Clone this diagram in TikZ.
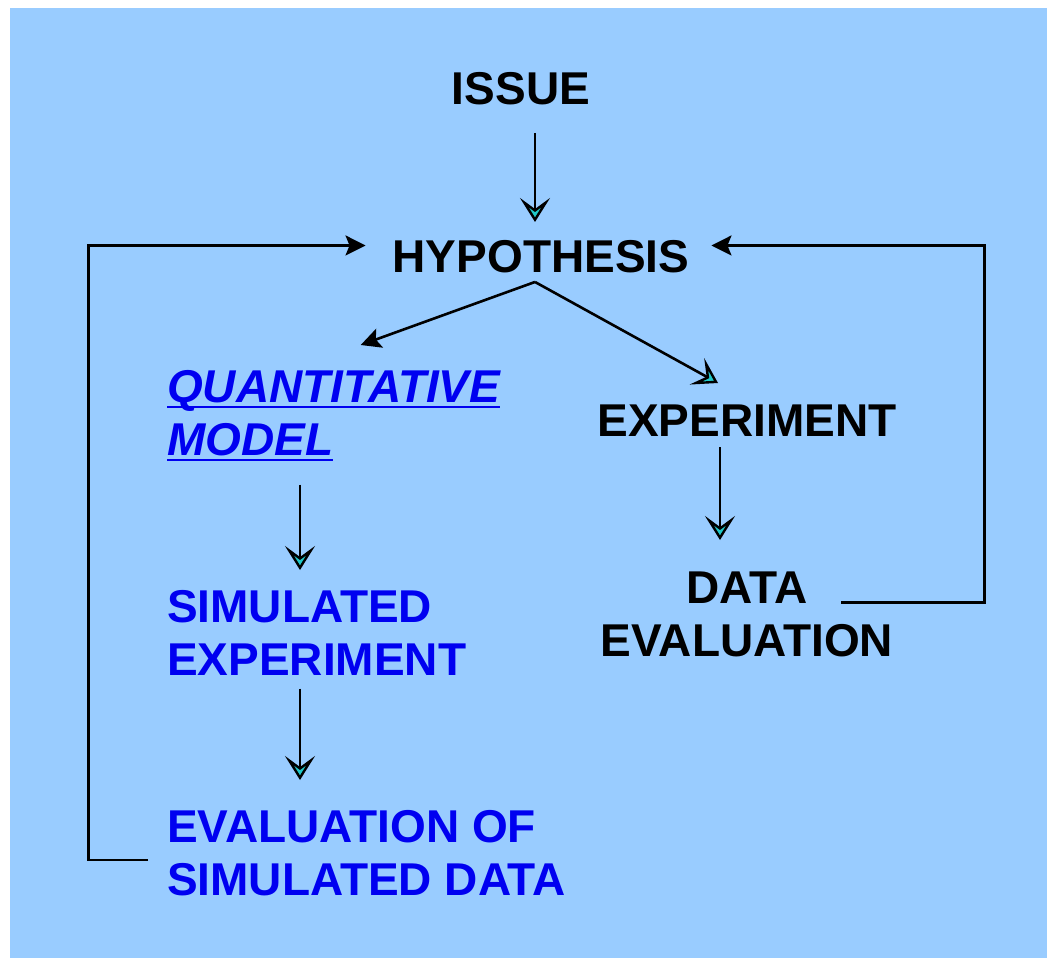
\documentclass[tikz,border=0pt]{standalone}
\usepackage{fontspec}
\setmainfont{Liberation Sans}
\usepackage{xcolor}
\definecolor{skyband}{HTML}{99CCFF}
\definecolor{simblue}{HTML}{0000F0}
\definecolor{tipcyan}{HTML}{20C8C8}
\usetikzlibrary{arrows.meta,positioning}
\newcommand{\stagefont}{\fontsize{46}{53}\selectfont\bfseries}
\newcommand{\thickul}[1]{\setbox0\hbox{#1}\rlap{\rule[-6pt]{\wd0}{2.6pt}}\box0}

\begin{document}
\begin{tikzpicture}[x=1pt, y=-1pt,
  stage/.style={inner sep=0pt, font=\stagefont, align=center},
  simstage/.style={inner sep=0pt, font=\stagefont, text=simblue, align=left, anchor=north west},
  arr/.style={-{Stealth[length=24pt, width=30pt, inset=11pt, fill=tipcyan, line width=2.4pt]}, line width=2.6pt},
  back/.style={-{Stealth[length=20pt, width=20pt, inset=4pt]}, line width=2.6pt}]
\useasboundingbox (0,0) rectangle (1047,958);
\fill[skyband] (10,8) rectangle (1047,958);
% main line
\node[stage, anchor=north] (issue) at (521,72) {ISSUE};
\node[stage, anchor=north] (hyp) at (541,240) {HYPOTHESIS};
\node[stage, anchor=north] (exp) at (747,405) {EXPERIMENT};
\node[stage, anchor=north] (data) at (747,572) {DATA\\EVALUATION};
% simulation branch
\node[simstage] (qm) at (167,370) {\itshape\thickul{QUANTITATIVE}\\\itshape\thickul{MODEL}};
\node[simstage] (sim) at (167,590) {SIMULATED\\EXPERIMENT};
\node[simstage] (evsim) at (167,810) {EVALUATION OF\\SIMULATED DATA};
\coordinate (fork) at ([shift={(-6pt,-9pt)}]hyp.south);
\draw[arr] ([shift={(14pt,-28pt)}]issue.south) -- ([shift={(-6pt,18pt)}]hyp.north);
\draw[back] (fork) -- ([shift={(27pt,25pt)}]qm.north);
\draw[arr] (fork) -- ([shift={(-29pt,22pt)}]exp.north);
\draw[arr] ([shift={(133pt,-23pt)}]qm.south west) -- ([shift={(133pt,20pt)}]sim.north west);
\draw[arr] ([shift={(133pt,-13pt)}]sim.south west) -- ([shift={(133pt,30pt)}]evsim.north west);
\draw[arr] ([shift={(-27pt,-10pt)}]exp.south) -- ([shift={(-27pt,32pt)}]data.north);
% feedback loops
\draw[back, shorten >=22pt] ([shift={(-52pt,12pt)}]data.east) -| ([shift={(295pt,11pt)}]hyp.east) -- ([yshift=11pt]hyp.east);
\draw[back, shorten >=27pt] ([shift={(-19pt,-7pt)}]evsim.west) -| ([shift={(-304pt,11pt)}]hyp.west) -- ([yshift=11pt]hyp.west);
\end{tikzpicture}
\end{document}
